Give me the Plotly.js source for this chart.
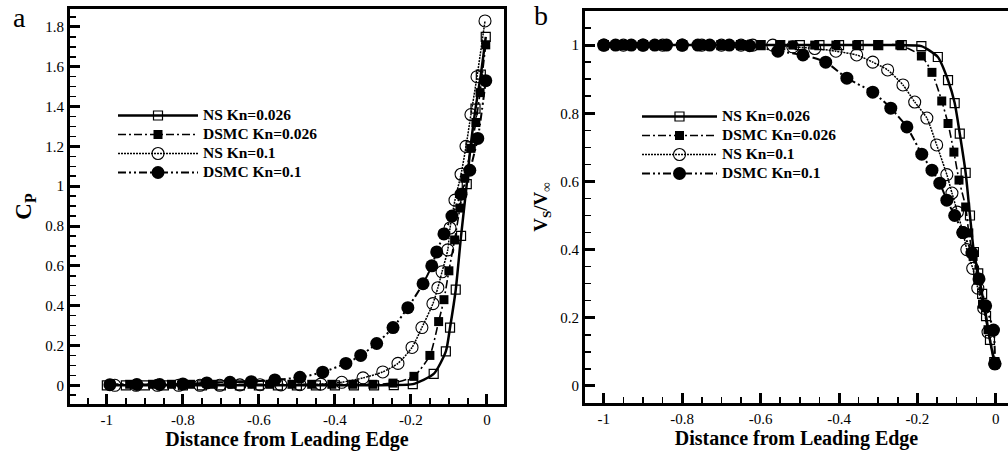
<!DOCTYPE html>
<html>
<head>
<meta charset="utf-8">
<script src="https://cdn.plot.ly/plotly-3.0.1.min.js"></script>
<style>html,body{margin:0;padding:0;background:#fff;}#chart{width:1008px;height:458px;}</style>
</head>
<body>
<div id="chart"></div>
<script>
// ---------- Panel a : C_P ----------
var aNS026X = [-1.0,-0.95,-0.9,-0.85,-0.8,-0.75,-0.7,-0.65,-0.6,-0.55,-0.5,-0.45,-0.4,-0.35,-0.297,-0.245,-0.195,-0.14,-0.108,-0.097,-0.082,-0.068,-0.053,-0.043,-0.03,-0.016,-0.003];
var aNS026Y = [0,0,0,0,0,0,0,0,0,0,0,0,0,0,0,0.001,0.006,0.057,0.17,0.29,0.48,0.75,1.01,1.2,1.39,1.56,1.75];
var aDS026X = [-0.99,-0.94,-0.88,-0.83,-0.78,-0.72,-0.67,-0.618,-0.571,-0.513,-0.461,-0.408,-0.353,-0.30,-0.247,-0.192,-0.15,-0.127,-0.113,-0.1,-0.085,-0.071,-0.058,-0.042,-0.029,-0.018,-0.003];
var aDS026Y = [0.005,0.005,0.005,0.005,0.005,0.005,0.005,0.005,0.005,0.005,0.005,0.005,0.005,0.005,0.011,0.045,0.15,0.32,0.43,0.575,0.73,0.89,1.04,1.19,1.32,1.47,1.71];
var aNS1X = [-0.979,-0.923,-0.867,-0.811,-0.755,-0.703,-0.65,-0.597,-0.542,-0.492,-0.437,-0.382,-0.326,-0.274,-0.234,-0.197,-0.171,-0.142,-0.129,-0.118,-0.103,-0.097,-0.084,-0.068,-0.055,-0.042,-0.026,-0.005];
var aNS1Y = [0,0,0,0,0,0,0.002,0.003,0.002,0.003,0.006,0.015,0.037,0.067,0.11,0.19,0.29,0.41,0.49,0.57,0.68,0.79,0.93,1.06,1.2,1.36,1.55,1.83];
var aDS1X = [-0.992,-0.921,-0.861,-0.8,-0.737,-0.676,-0.62,-0.558,-0.492,-0.432,-0.371,-0.332,-0.29,-0.247,-0.208,-0.168,-0.145,-0.132,-0.113,-0.092,-0.068,-0.045,-0.024,-0.003];
var aDS1Y = [0.003,0.004,0.004,0.007,0.012,0.015,0.018,0.027,0.04,0.066,0.11,0.15,0.21,0.29,0.39,0.51,0.60,0.67,0.76,0.85,0.96,1.08,1.24,1.53];

// ---------- Panel b : Vs/Vinf ----------
var bNS026X = [-1.0,-0.95,-0.9,-0.85,-0.8,-0.75,-0.7,-0.65,-0.6,-0.55,-0.5,-0.45,-0.4,-0.35,-0.3,-0.24,-0.19,-0.148,-0.122,-0.105,-0.092,-0.077,-0.066,-0.056,-0.045,-0.035,-0.025,-0.015,-0.004];
var bNS026Y = [1,1,1,1,1,1,1,1,1,1,1,1,1,1,1,1.0,0.997,0.965,0.897,0.83,0.74,0.625,0.50,0.393,0.33,0.27,0.205,0.135,0.07];
var bDS026X = [-1.0,-0.95,-0.9,-0.85,-0.8,-0.75,-0.7,-0.65,-0.6,-0.55,-0.518,-0.462,-0.408,-0.355,-0.30,-0.245,-0.19,-0.163,-0.138,-0.122,-0.107,-0.094,-0.077,-0.069,-0.058,-0.046,-0.034,-0.02,-0.002];
var bDS026Y = [1,1,1,1,1,1,1,1,1,1,1,1,1,1,1,1,0.968,0.92,0.836,0.77,0.686,0.604,0.525,0.449,0.38,0.31,0.24,0.165,0.07];
var bNS1X = [-1.0,-0.95,-0.9,-0.85,-0.8,-0.75,-0.7,-0.65,-0.62,-0.569,-0.518,-0.462,-0.408,-0.355,-0.314,-0.276,-0.237,-0.207,-0.176,-0.151,-0.125,-0.112,-0.098,-0.084,-0.074,-0.059,-0.046,-0.031,-0.02,-0.003];
var bNS1Y = [1,1,1,1,1,1,1,1,1,1.0,0.995,0.99,0.982,0.971,0.95,0.927,0.883,0.833,0.786,0.707,0.62,0.566,0.51,0.45,0.40,0.345,0.287,0.228,0.158,0.065];
var bDS1X = [-1.0,-0.97,-0.93,-0.9,-0.87,-0.84,-0.8,-0.76,-0.73,-0.68,-0.628,-0.556,-0.492,-0.434,-0.38,-0.314,-0.268,-0.227,-0.189,-0.163,-0.143,-0.125,-0.105,-0.084,-0.061,-0.043,-0.026,-0.006,-0.002];
var bDS1Y = [1,1,1,1,1,1,1,1,1,1,0.998,0.982,0.971,0.95,0.903,0.862,0.815,0.76,0.68,0.633,0.595,0.545,0.50,0.45,0.39,0.314,0.235,0.164,0.065];

// ---------- labels & ticks ----------
var seriesNames = ['NS Kn=0.026','DSMC Kn=0.026','NS Kn=0.1','DSMC Kn=0.1'];
var xTickVals = [-1,-0.8,-0.6,-0.4,-0.2,0];
var xTickText = ['-1','-0.8','-0.6','-0.4','-0.2','0'];
var aYTickVals = [0,0.2,0.4,0.6,0.8,1,1.2,1.4,1.6,1.8];
var aYTickText = ['0','0.2','0.4','0.6','0.8','1','1.2','1.4','1.6','1.8'];
var bYTickVals = [0,0.2,0.4,0.6,0.8,1];
var bYTickText = ['0','0.2','0.4','0.6','0.8','1'];
var xTitle = 'Distance from Leading Edge';
var aYTitle = '<b>C<sub>P</sub></b>';
var bYTitle = '<b>V<sub>S</sub>/V<sub>\u221e</sub></b>';

var serif = '"Liberation Serif","Times New Roman",serif';

var styles = [
  {line:{color:'#000',width:2.5,dash:'solid'}, marker:{symbol:'square-open',size:9,color:'#000',line:{width:1.2,color:'#000'}}},
  {line:{color:'#000',width:1.6,dash:'8px,3px,2px,3px'}, marker:{symbol:'square',size:9,color:'#000'}},
  {line:{color:'#000',width:1.5,dash:'2px,1px'}, marker:{symbol:'circle-open',size:12,color:'#000',line:{width:1.1,color:'#000'}}},
  {line:{color:'#000',width:2,dash:'8px,3px,2px,3px,2px,3px'}, marker:{symbol:'circle',size:13,color:'#000'}}
];

function mk(x, y, i, xa, ya, leg) {
  return {
    x: x, y: y, type: 'scatter', mode: 'lines+markers',
    name: '<span style="font-size:15.5px"><b>' + seriesNames[i] + '</b></span>',
    xaxis: xa, yaxis: ya, legend: leg,
    line: Object.assign({shape:'spline', smoothing:0.6}, styles[i].line),
    marker: styles[i].marker,
    cliponaxis: false
  };
}

var data = [
  mk(aNS026X, aNS026Y, 0, 'x', 'y', 'legend'),
  mk(aDS026X, aDS026Y, 1, 'x', 'y', 'legend'),
  mk(aNS1X, aNS1Y, 2, 'x', 'y', 'legend'),
  mk(aDS1X, aDS1Y, 3, 'x', 'y', 'legend'),
  mk(bNS026X, bNS026Y, 0, 'x2', 'y2', 'legend2'),
  mk(bDS026X, bDS026Y, 1, 'x2', 'y2', 'legend2'),
  mk(bNS1X, bNS1Y, 2, 'x2', 'y2', 'legend2'),
  mk(bDS1X, bDS1Y, 3, 'x2', 'y2', 'legend2')
];

function axisBase() {
  return {
    showgrid:false, zeroline:false, showline:true, linecolor:'#000', linewidth:3,
    ticks:'inside', ticklen:10, tickwidth:3, tickcolor:'#000',
    tickfont:{family:serif, size:15, color:'#000'},
    tickmode:'array',
    minor:{tickmode:'linear', tick0:0, dtick:0.05, ticks:'inside', ticklen:6, tickwidth:1.5, tickcolor:'#000'}
  };
}

var xa = Object.assign(axisBase(), {domain:[70/1008, 504/1008], range:[-1.097,0.045], anchor:'y', mirror:true,
  tickvals:xTickVals, ticktext:xTickText,
  title:{text:'<b>'+xTitle+'</b>', font:{family:serif,size:20,color:'#000'}, standoff:4}});
var ya = Object.assign(axisBase(), {domain:[1-404/458, 1-9/458], range:[-0.094,1.89], anchor:'x', mirror:true,
  tickvals:aYTickVals, ticktext:aYTickText,
  title:{text:aYTitle, font:{family:serif,size:23,color:'#000'}, standoff:8}});
var xb = Object.assign(axisBase(), {domain:[585/1008, 1], range:[-1.048,0.031], anchor:'y2', mirror:true,
  tickvals:xTickVals, ticktext:xTickText,
  title:{text:'<b>'+xTitle+'</b>', font:{family:serif,size:20,color:'#000'}, standoff:4}});
var yb = Object.assign(axisBase(), {domain:[1-403/458, 1-11/458], range:[-0.05,1.1], anchor:'x2', mirror:false,
  tickvals:bYTickVals, ticktext:bYTickText,
  title:{text:bYTitle, font:{family:serif,size:19,color:'#000'}, standoff:8}});

var legFont = {family:serif, size:12, color:'#000'};
var layout = {
  width:1008, height:458,
  margin:{l:0, r:0, t:0, b:0},
  paper_bgcolor:'#fff', plot_bgcolor:'#fff',
  showlegend:true,
  xaxis:xa, yaxis:ya, xaxis2:xb, yaxis2:yb,
  legend:{x:113/1008, y:1-101/458, xanchor:'left', yanchor:'top', bgcolor:'rgba(0,0,0,0)', borderwidth:0,
    font:legFont, itemwidth:80, tracegroupgap:0, itemclick:false},
  legend2:{x:637/1008, y:1-102/458, xanchor:'left', yanchor:'top', bgcolor:'rgba(0,0,0,0)', borderwidth:0,
    font:legFont, itemwidth:75, tracegroupgap:0, itemclick:false},
  annotations:[
    {text:'a', xref:'paper', yref:'paper', x:19/1008, y:1-18/458, xanchor:'center', yanchor:'middle', showarrow:false,
     font:{family:serif, size:28, color:'#000'}},
    {text:'b', xref:'paper', yref:'paper', x:541/1008, y:1-16/458, xanchor:'center', yanchor:'middle', showarrow:false,
     font:{family:serif, size:28, color:'#000'}}
  ]
};

Plotly.newPlot('chart', data, layout, {staticPlot:true, displayModeBar:false});
</script>
</body>
</html>
